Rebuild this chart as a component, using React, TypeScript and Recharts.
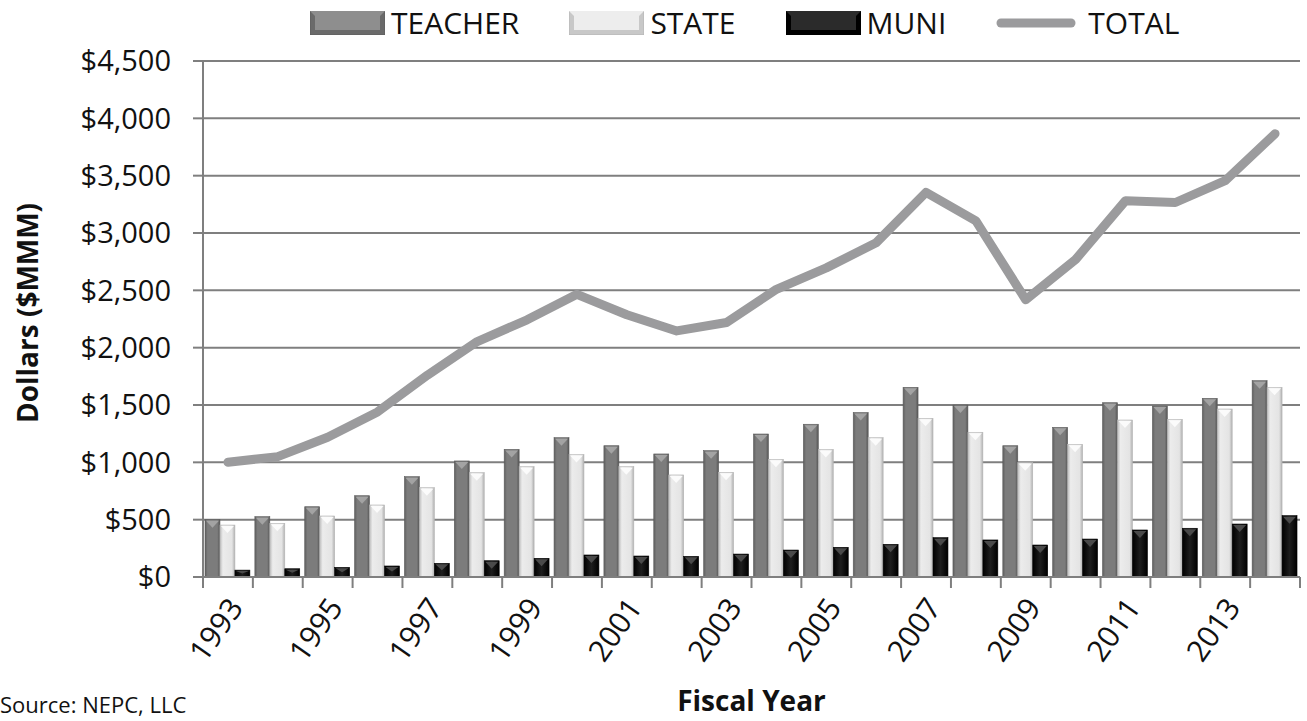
import React from 'react';
import { ComposedChart, Bar, Line, XAxis, YAxis, CartesianGrid, Legend } from 'recharts';

const years = ['1993', '1994', '1995', '1996', '1997', '1998', '1999', '2000', '2001', '2002', '2003',
  '2004', '2005', '2006', '2007', '2008', '2009', '2010', '2011', '2012', '2013', '2014'];
const teacher = [500, 526, 613, 709, 875, 1012, 1113, 1215, 1145, 1073, 1102,
  1247, 1332, 1434, 1654, 1500, 1145, 1305, 1520, 1491, 1558, 1712];
const stateVals = [453, 468, 532, 628, 779, 910, 962, 1068, 962, 890, 913,
  1026, 1113, 1215, 1384, 1262, 997, 1157, 1369, 1375, 1465, 1654];
const muni = [60, 72, 84, 96, 119, 142, 163, 192, 183, 180, 200,
  235, 259, 285, 343, 323, 279, 331, 410, 425, 462, 535];
const total = [1000, 1050, 1219, 1439, 1760, 2053, 2243, 2465, 2287, 2146, 2219,
  2509, 2696, 2915, 3354, 3105, 2418, 2769, 3281, 3266, 3456, 3866];
const yTicks = [0, 500, 1000, 1500, 2000, 2500, 3000, 3500, 4000, 4500];
const seriesOrder = ['TEACHER', 'STATE', 'MUNI', 'TOTAL'];

const data = years.map((year, i) => ({
  year,
  TEACHER: teacher[i],
  STATE: stateVals[i],
  MUNI: muni[i],
  TOTAL: total[i],
}));

const W = 1307;
const H = 721;
const PLOT_LEFT = 203;
const PLOT_RIGHT = 1300;
const BAND = (PLOT_RIGHT - PLOT_LEFT) / years.length;
const AXIS = '#7f7f7f';
const FONT = "'Open Sans', 'Noto Sans', sans-serif";

const barStyles: Record<string, { grad: string; cap: string; edge: string }> = {
  TEACHER: { grad: 'gTeacher', cap: '#a3a3a3', edge: '#5c5c5c' },
  STATE: { grad: 'gState', cap: '#fbfbfb', edge: '#b5b5b5' },
  MUNI: { grad: 'gMuni', cap: '#4a4a4a', edge: '#000' },
};

const bevelShape = (key: string) => (props: any) => {
  const { x, y, width, height } = props;
  if (!height || height <= 0) return <g />;
  const s = barStyles[key];
  const cap = Math.min(8, height / 2);
  return (
    <g>
      <rect x={x} y={y} width={width} height={height} fill={`url(#${s.grad})`} stroke={s.edge} strokeWidth={0.6} />
      <polygon points={`${x + 1},${y + 1} ${x + width - 1},${y + 1} ${x + width / 2},${y + cap}`} fill={s.cap} />
    </g>
  );
};

function YearTick(props: any) {
  const { x, y, payload, index } = props;
  const i = payload?.index ?? index;
  const left = x - BAND / 2;
  const ax = x + 7;
  const ay = y + 24;
  return (
    <g>
      <line x1={left} x2={left} y1={y} y2={y + 11} stroke={AXIS} strokeWidth={2} />
      {i === years.length - 1 && (
        <line x1={x + BAND / 2} x2={x + BAND / 2} y1={y} y2={y + 11} stroke={AXIS} strokeWidth={2} />
      )}
      {i % 2 === 0 && (
        <text
          x={ax}
          y={ay}
          transform={`rotate(-55, ${ax}, ${ay})`}
          textAnchor="end"
          dominantBaseline="central"
          fontFamily={FONT}
          fontSize={30}
          fill="#111"
        >
          {payload.value}
        </text>
      )}
    </g>
  );
}

function LegendIcon({ name }: { name: string }) {
  if (name === 'TOTAL') {
    return (
      <svg width={80} height={24} style={{ marginRight: 12 }}>
        <line x1={5} y1={12} x2={75} y2={12} stroke="#9b9b9d" strokeWidth={9} strokeLinecap="round" />
      </svg>
    );
  }
  const s = barStyles[name];
  const colors: Record<string, [string, string]> = {
    TEACHER: ['#6a6a6a', '#8e8e8e'],
    STATE: ['#c8c8c8', '#ededed'],
    MUNI: ['#000', '#2b2b2b'],
  };
  const [dark, light] = colors[name];
  return (
    <svg width={75} height={24} style={{ marginRight: 6 }}>
      <rect x={0} y={0} width={75} height={24} fill={dark} stroke={s.edge} strokeWidth={1} />
      <polygon points="5,5 70,5 75,0 0,0" fill={light} />
      <rect x={5} y={5} width={65} height={14} fill={light} />
    </svg>
  );
}

function renderLegend(props: any) {
  const items = [...(props.payload || [])].sort(
    (a: any, b: any) => seriesOrder.indexOf(a.value) - seriesOrder.indexOf(b.value)
  );
  return (
    <div style={{ display: 'flex', justifyContent: 'flex-start', alignItems: 'center', paddingLeft: 310, fontFamily: FONT }}>
      {items.map((entry: any) => (
        <div key={entry.value} style={{ display: 'flex', alignItems: 'center', marginRight: entry.value === 'TOTAL' ? 0 : 50 }}>
          <LegendIcon name={entry.value} />
          <span style={{ fontSize: 30, color: '#111', lineHeight: '34px' }}>{entry.value}</span>
        </div>
      ))}
    </div>
  );
}

export default function App() {
  return (
    <div style={{ position: 'absolute', left: 0, top: 0, width: W, height: H, background: '#fff', overflow: 'hidden' }}>
      <ComposedChart
        width={W}
        height={H}
        data={data}
        margin={{ top: 21, right: W - PLOT_RIGHT, bottom: 0, left: 0 }}
        barGap={-2}
        barCategoryGap={0}
      >
        <defs>
          <linearGradient id="gTeacher" x1="0" y1="0" x2="1" y2="0">
            <stop offset="0%" stopColor="#5f5f5f" />
            <stop offset="18%" stopColor="#7c7c7c" />
            <stop offset="82%" stopColor="#7c7c7c" />
            <stop offset="100%" stopColor="#555" />
          </linearGradient>
          <linearGradient id="gState" x1="0" y1="0" x2="1" y2="0">
            <stop offset="0%" stopColor="#bdbdbd" />
            <stop offset="20%" stopColor="#ececec" />
            <stop offset="80%" stopColor="#e4e4e4" />
            <stop offset="100%" stopColor="#b0b0b0" />
          </linearGradient>
          <linearGradient id="gMuni" x1="0" y1="0" x2="1" y2="0">
            <stop offset="0%" stopColor="#000" />
            <stop offset="50%" stopColor="#1e1e1e" />
            <stop offset="100%" stopColor="#000" />
          </linearGradient>
        </defs>
        <CartesianGrid vertical={false} stroke={AXIS} strokeWidth={2} />
        <XAxis
          dataKey="year"
          height={H - 577}
          interval={0}
          tickLine={false}
          tickSize={0}
          tickMargin={0}
          axisLine={{ stroke: AXIS, strokeWidth: 2 }}
          tick={<YearTick />}
          label={{ value: 'Fiscal Year', position: 'center', dy: 52, fontFamily: FONT, fontSize: 28, fontWeight: 700, fill: '#111' }}
        />
        <YAxis
          width={PLOT_LEFT}
          domain={[0, 4500]}
          ticks={yTicks}
          interval={0}
          tickSize={10}
          tickMargin={22}
          axisLine={{ stroke: AXIS, strokeWidth: 2 }}
          tickLine={{ stroke: AXIS, strokeWidth: 2 }}
          tick={{ fontFamily: FONT, fontSize: 29, fill: '#111' }}
          tickFormatter={(v: number) => `$${v.toLocaleString('en-US')}`}
          label={{ value: 'Dollars ($MMM)', angle: -90, position: 'center', dx: -73, dy: -6, fontFamily: FONT, fontSize: 28, fontWeight: 700, fill: '#111' }}
        />
        <Legend
          verticalAlign="top"
          height={40}
          content={renderLegend}
          wrapperStyle={{ top: 6, left: 0, width: W, height: 40 }}
        />
        <Bar dataKey="TEACHER" barSize={19} fill="#7c7c7c" shape={bevelShape('TEACHER')} isAnimationActive={false} />
        <Bar dataKey="STATE" barSize={19} fill="#e4e4e4" shape={bevelShape('STATE')} isAnimationActive={false} />
        <Bar dataKey="MUNI" barSize={19} fill="#111" shape={bevelShape('MUNI')} isAnimationActive={false} />
        <Line
          dataKey="TOTAL"
          type="linear"
          stroke="#9b9b9d"
          strokeWidth={9}
          strokeLinecap="round"
          strokeLinejoin="round"
          dot={false}
          activeDot={false}
          isAnimationActive={false}
        />
        <text x={0} y={713} fontFamily={FONT} fontSize={22} fill="#111">Source: NEPC, LLC</text>
      </ComposedChart>
    </div>
  );
}
